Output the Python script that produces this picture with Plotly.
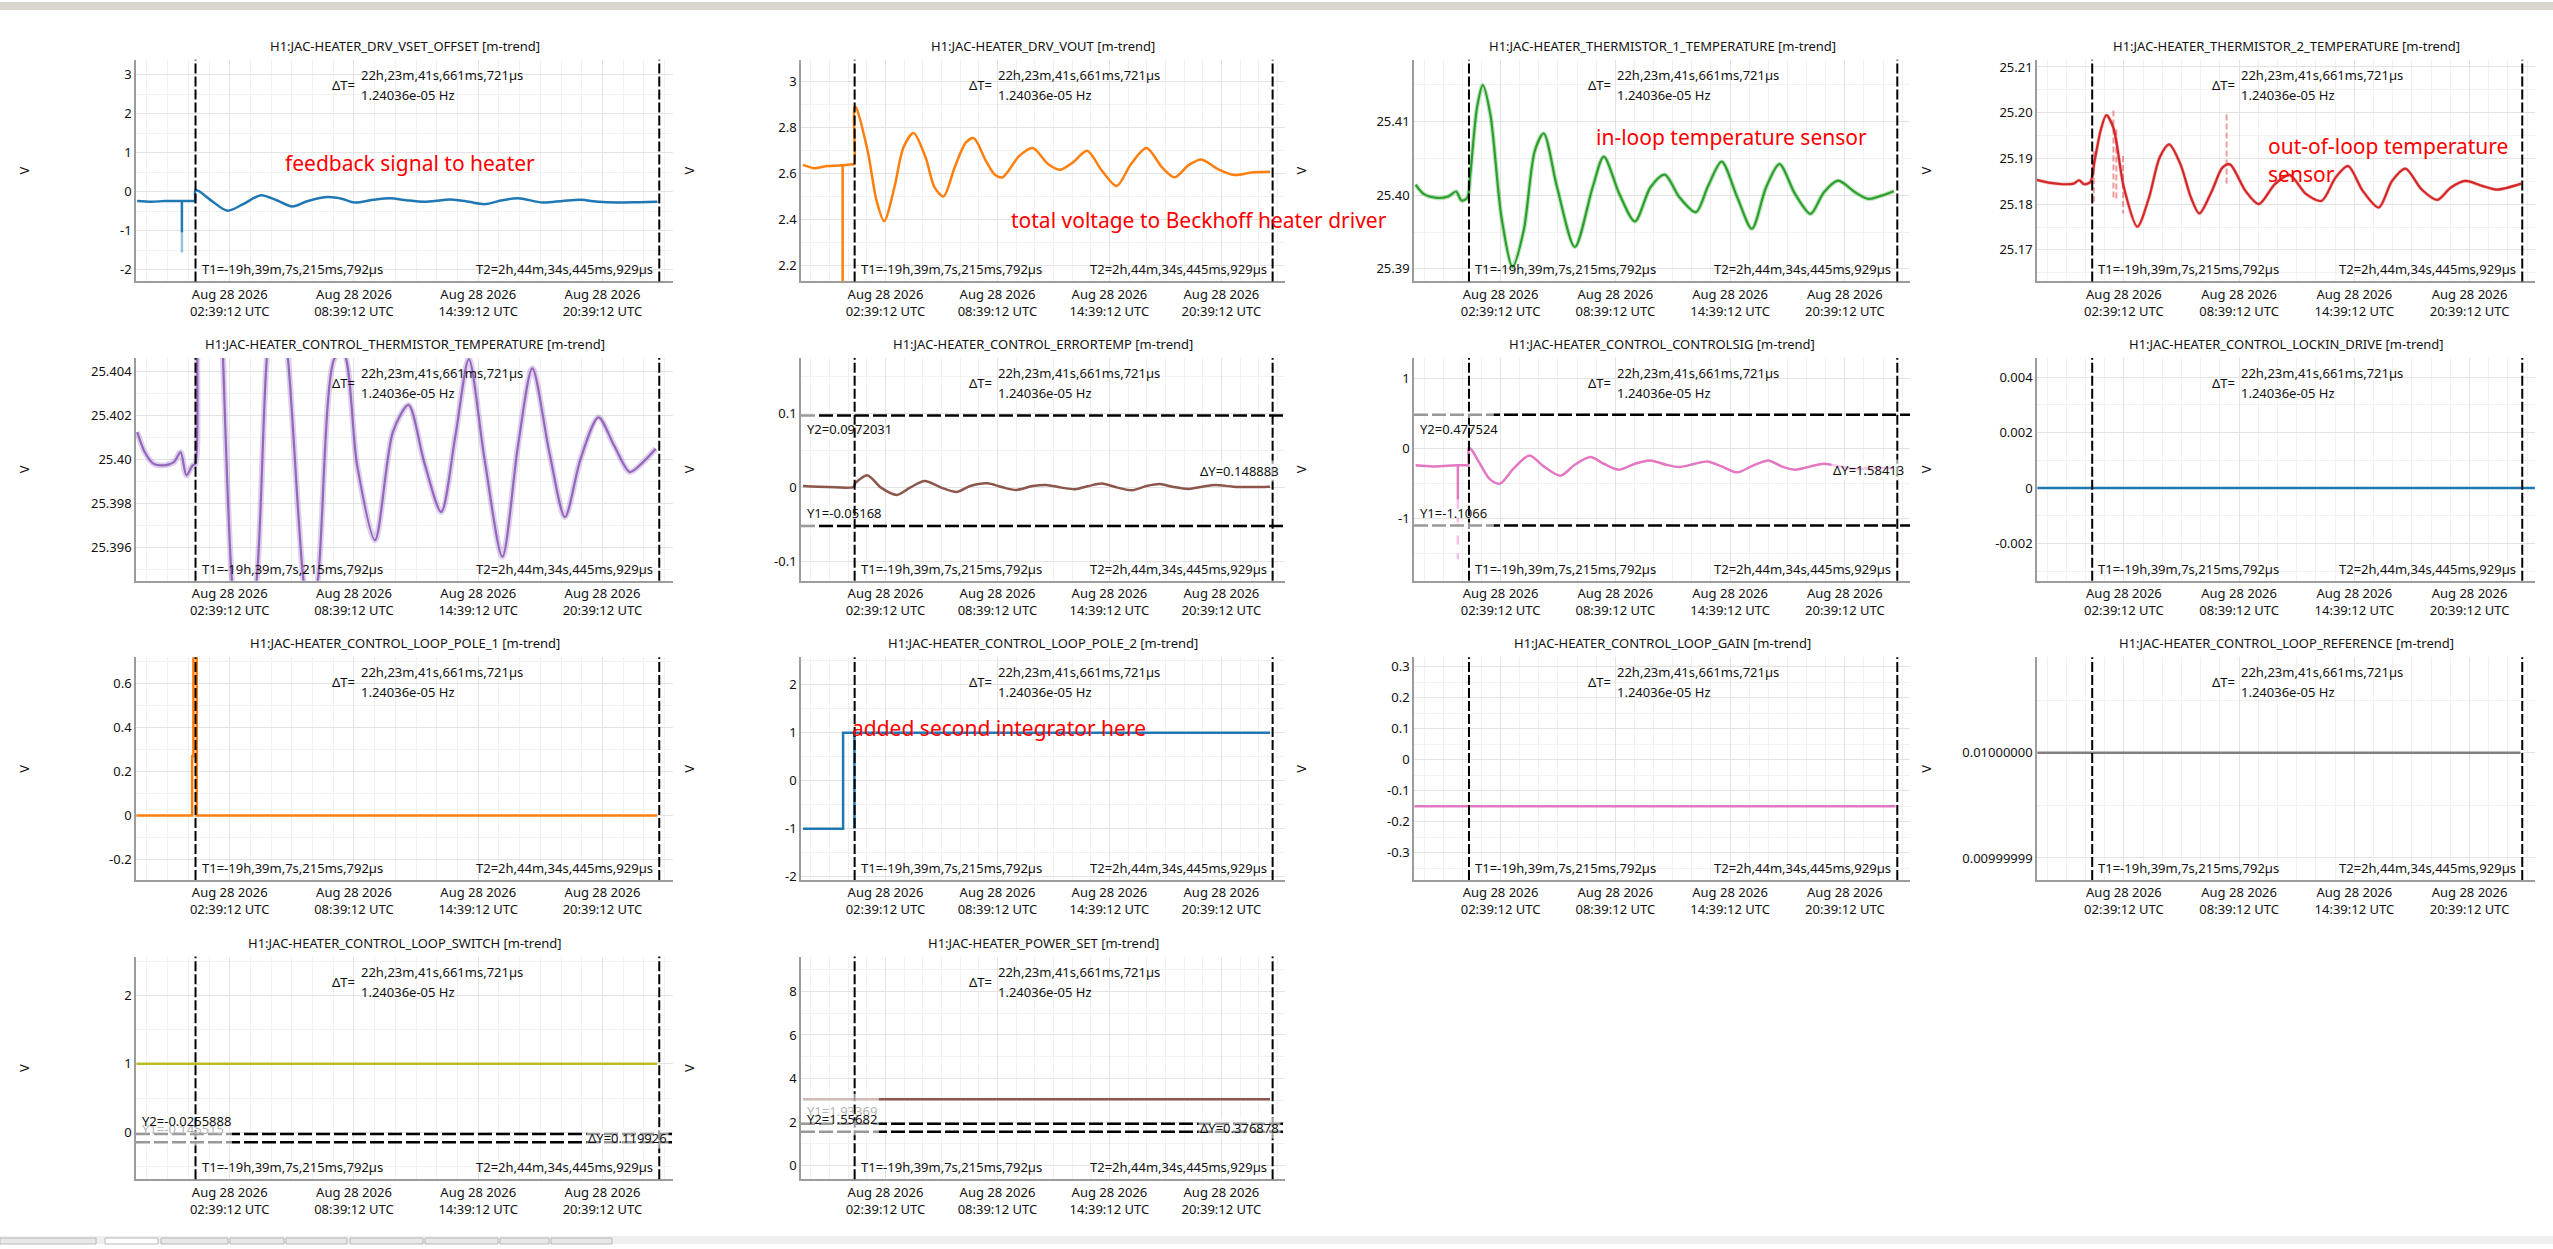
import numpy as np
import pandas as pd
import plotly.graph_objects as go

# H1:JAC heater loop, minute trends over one day
t_ref = pd.Timestamp("2026-08-28 00:00:00")
T1 = pd.Timestamp("2026-08-28 01:00:04.784208")
T2 = pd.Timestamp("2026-08-28 23:23:46.445929")
x_lo_h, x_hi_h = -1.873, 24.06

tick_times = ["2026-08-28 02:39:12", "2026-08-28 08:39:12",
              "2026-08-28 14:39:12", "2026-08-28 20:39:12"]
tick_labels = ["Aug 28 2026<br>02:39:12 UTC", "Aug 28 2026<br>08:39:12 UTC",
               "Aug 28 2026<br>14:39:12 UTC", "Aug 28 2026<br>20:39:12 UTC"]

channels = ["H1:JAC-HEATER_DRV_VSET_OFFSET", "H1:JAC-HEATER_DRV_VOUT",
            "H1:JAC-HEATER_THERMISTOR_1_TEMPERATURE", "H1:JAC-HEATER_THERMISTOR_2_TEMPERATURE",
            "H1:JAC-HEATER_CONTROL_THERMISTOR_TEMPERATURE", "H1:JAC-HEATER_CONTROL_ERRORTEMP",
            "H1:JAC-HEATER_CONTROL_CONTROLSIG", "H1:JAC-HEATER_CONTROL_LOCKIN_DRIVE",
            "H1:JAC-HEATER_CONTROL_LOOP_POLE_1", "H1:JAC-HEATER_CONTROL_LOOP_POLE_2",
            "H1:JAC-HEATER_CONTROL_LOOP_GAIN", "H1:JAC-HEATER_CONTROL_LOOP_REFERENCE",
            "H1:JAC-HEATER_CONTROL_LOOP_SWITCH", "H1:JAC-HEATER_POWER_SET"]

dT_text = "22h,23m,41s,661ms,721µs"
dT_freq = "1.24036e-05 Hz"
T1_text = "T1=-19h,39m,7s,215ms,792µs"
T2_text = "T2=2h,44m,34s,445ms,929µs"

# --- series (hours after 2026-08-28 00:00 UTC) ---
p1_h = [-1.815, -1.124, -0.476, 0.279, 0.862, 0.97, 0.99, 1.142, 1.790, 2.545, 3.301, 4.164, 4.920,
        5.675, 6.431, 7.402, 8.049, 8.697, 9.560, 10.424, 11.179, 12.042, 13.338, 14.201, 14.956,
        15.820, 16.575, 17.762, 18.733, 19.597, 20.460, 21.324, 22.403, 23.309]
p1_v = [-0.24, -0.26, -0.24, -0.24, -0.24, -0.24, 0.03, 0.02, -0.24, -0.49, -0.32, -0.09, -0.22,
        -0.38, -0.24, -0.14, -0.18, -0.28, -0.21, -0.17, -0.22, -0.26, -0.20, -0.26, -0.32,
        -0.22, -0.17, -0.28, -0.24, -0.21, -0.26, -0.28, -0.27, -0.26]

p2_h = [-1.77, -1.172, -0.455, 0.311, 0.860, 0.97, 0.99, 1.06, 1.697, 2.175, 2.582, 3.131, 3.609,
        4.159, 4.805, 5.283, 5.761, 6.359, 6.956, 7.387, 8.032, 8.510, 8.917, 9.825, 10.542,
        11.379, 12.024, 12.694, 13.459, 14.248, 15.037, 15.802, 16.638, 17.475, 18.145, 18.909,
        19.579, 20.464, 21.348, 22.256, 23.261]
p2_v = [2.637, 2.623, 2.632, 2.635, 2.640, 2.640, 2.888, 2.888, 2.698, 2.482, 2.392, 2.539, 2.712,
        2.776, 2.669, 2.539, 2.500, 2.626, 2.734, 2.753, 2.655, 2.594, 2.583, 2.676, 2.710,
        2.640, 2.616, 2.648, 2.698, 2.612, 2.545, 2.640, 2.710, 2.626, 2.583, 2.637,
        2.661, 2.619, 2.593, 2.604, 2.607]

p3_h = [-1.789, -1.370, -0.672, -0.091, 0.328, 0.607, 0.909, 1.072, 1.421, 1.723, 2.118, 2.700,
        3.281, 3.863, 4.444, 4.909, 5.607, 6.537, 7.467, 8.049, 8.863, 9.677, 10.491, 11.235,
        12.002, 12.863, 13.514, 14.211, 15.026, 15.793, 16.537, 17.235, 18.049, 18.863, 19.560,
        20.305, 21.188, 21.886, 22.584, 23.212]
p3_v = [25.40144, 25.40018, 25.39964, 25.39982, 25.40050, 25.39928, 25.39964, 25.40288, 25.41189,
        25.41495, 25.41099, 25.39703, 25.39027, 25.39523, 25.40604, 25.40838, 25.40108, 25.39297,
        25.40108, 25.40523, 25.40018, 25.39644, 25.40108, 25.40279, 25.39973, 25.39770, 25.40131,
        25.40455, 25.39973, 25.39545, 25.40108, 25.40423, 25.40018, 25.39748, 25.40041, 25.40198,
        25.40041, 25.39950, 25.39995, 25.40054]

p4_h = [-1.885, -1.274, -0.511, 0.035, 0.319, 0.580, 0.908, 1.126, 1.453, 1.737, 2.108, 2.653,
        3.352, 3.962, 4.508, 5.010, 5.599, 6.144, 6.581, 7.235, 7.781, 8.174, 8.981, 9.679,
        10.508, 11.272, 12.145, 12.952, 13.672, 14.327, 15.091, 15.920, 16.618, 17.316, 18.145,
        18.974, 19.673, 20.436, 21.309, 22.073, 23.339]
p4_v = [25.1853, 25.1847, 25.18436, 25.1845, 25.18523, 25.18436, 25.18486, 25.18944, 25.19633,
        25.19946, 25.1967, 25.18363, 25.17506, 25.18145, 25.19016, 25.19307, 25.18871, 25.18145,
        25.17797, 25.1829, 25.18799, 25.18871, 25.1829, 25.18, 25.18436, 25.18639, 25.18218,
        25.18073, 25.18581, 25.18835, 25.1829, 25.17927, 25.18508, 25.18777, 25.18327, 25.18094,
        25.18363, 25.18508, 25.18399, 25.18319, 25.1845]
p4_glitch_h = [1.082, 2.108, 2.260, 2.610, 7.999]
p4_glitch_lo = [25.18036, 25.18145, 25.18109, 25.17797, 25.18399]
p4_glitch_hi = [25.19162, 25.20047, 25.19633, 25.19053, 25.19960]

p5_h = [-1.815, -1.448, -1.016, -0.584, -0.045, 0.279, 0.560, 0.862, 0.99, 1.10, 1.42, 1.72, 2.12,
        2.33, 2.76, 3.28, 3.95, 4.445, 4.91, 5.46, 6.22, 6.54, 6.905, 7.726, 8.157, 8.805, 9.668,
        10.532, 11.287, 12.042, 12.863, 13.553, 14.201, 14.956, 15.820, 16.575, 17.266, 18.086,
        18.842, 19.597, 20.460, 21.216, 21.971, 22.619, 23.223]
p5_v = [25.40124, 25.40033, 25.39980, 25.39973, 25.39988, 25.40033, 25.39928, 25.39973, 25.39980,
        25.40600, 25.41190, 25.41500, 25.41100, 25.40460, 25.39450, 25.39030, 25.39450, 25.40460,
        25.40840, 25.40460, 25.39450, 25.39300, 25.39450, 25.40460, 25.40480, 25.39973, 25.39634,
        25.40124, 25.40247, 25.39988, 25.39762, 25.40108, 25.40455, 25.40003, 25.39559, 25.40063,
        25.40413, 25.40033, 25.39739, 25.40003, 25.40191, 25.40063, 25.39943, 25.39988, 25.40048]

p6_h = [-1.77, -0.455, 0.932, 1.06, 1.697, 2.414, 3.251, 3.968, 4.757, 5.642, 6.478, 7.196, 8.104,
        8.869, 9.634, 10.542, 11.260, 12.096, 12.813, 13.531, 14.248, 15.085, 15.850, 16.638,
        17.356, 18.073, 18.909, 19.627, 20.344, 21.300, 22.256, 23.261]
p6_v = [0.0022, 0.0009, 0.0009, 0.0067, 0.0165, 0.0, -0.0098, 0.0, 0.0089, 0.0, -0.0058, 0.0022,
        0.0058, 0.0009, -0.0031, 0.0022, 0.0036, 0.0, -0.0022, 0.0022, 0.0054, 0.0, -0.0036,
        0.0022, 0.0049, 0.0009, -0.0018, 0.0013, 0.0036, 0.0013, 0.0009, 0.0013]

p7_h = [-1.789, -0.905, -0.091, 0.421, 0.886, 0.97, 0.99, 1.142, 1.653, 2.118, 2.630, 3.281, 4.165,
        4.909, 5.793, 6.537, 7.351, 8.049, 8.863, 9.677, 10.491, 11.305, 12.002, 12.816, 13.467,
        14.211, 15.026, 15.840, 16.653, 17.351, 18.049, 18.863, 19.560, 20.374, 21.188, 22.119,
        23.165]
p7_v = [-0.246, -0.261, -0.251, -0.246, -0.246, -0.246, 0.009, -0.024, -0.261, -0.450, -0.507,
        -0.308, -0.104, -0.261, -0.393, -0.237, -0.128, -0.223, -0.308, -0.223, -0.175, -0.237,
        -0.270, -0.223, -0.190, -0.261, -0.346, -0.251, -0.175, -0.261, -0.308, -0.261, -0.223,
        -0.261, -0.299, -0.284, -0.284]

p8_h = [-1.85, 24.05]
p8_v = [0.0, 0.0]
p9_h = [-1.85, 0.84, 0.90, 1.06, 23.30]
p9_v = [0.0, 0.27, 1.0, 0.0, 0.0]
p10_h = [-1.77, 0.382, 23.26]
p10_v = [-1.0, 1.0, 1.0]
p11_h = [-1.85, 23.30]
p11_v = [-0.15, -0.15]
p12_h = [-1.85, 23.30]
p12_v = [0.01, 0.01]
p13_h = [-1.85, 23.30]
p13_v = [1.0, 1.0]
p14_h = [-1.77, 23.26]
p14_v = [3.05, 3.05]

# single-minute excursions: (hour, low, high)
p1_spike = [(0.344, -1.05, -0.24)]
p1_spike_minmax = [(0.344, -1.56, -1.05)]
p2_spike = [(0.358, 2.00, 2.635)]
p7_spike = [(0.421, -0.735, -0.246)]
p7_spike_minmax = [(0.421, -1.588, -0.735)]
p10_spike = [(0.99, -1.0, 1.0)]

# y cursors: (Y1, Y2, dY)
p6_cursor = (-0.05168, 0.0972031, 0.148883)
p7_cursor = (-1.1066, 0.477524, 1.58413)
p13_cursor = (-0.145515, -0.0255888, 0.119926)
p14_cursor = (1.93369, 1.55682, 0.376878)

# y axes
p1_ticks, p1_tlab = [-2, -1, 0, 1, 2, 3], ["-2", "-1", "0", "1", "2", "3"]
p2_ticks, p2_tlab = [2.2, 2.4, 2.6, 2.8, 3.0], ["2.2", "2.4", "2.6", "2.8", "3"]
p3_ticks, p3_tlab = [25.39, 25.40, 25.41], ["25.39", "25.40", "25.41"]
p4_ticks, p4_tlab = [25.17, 25.18, 25.19, 25.20, 25.21], ["25.17", "25.18", "25.19", "25.20", "25.21"]
p5_ticks, p5_tlab = [25.396, 25.398, 25.400, 25.402, 25.404], ["25.396", "25.398", "25.40", "25.402", "25.404"]
p6_ticks, p6_tlab = [-0.1, 0.0, 0.1], ["-0.1", "0", "0.1"]
p7_ticks, p7_tlab = [-1, 0, 1], ["-1", "0", "1"]
p8_ticks, p8_tlab = [-0.002, 0.0, 0.002, 0.004], ["-0.002", "0", "0.002", "0.004"]
p9_ticks, p9_tlab = [-0.2, 0.0, 0.2, 0.4, 0.6], ["-0.2", "0", "0.2", "0.4", "0.6"]
p10_ticks, p10_tlab = [-2, -1, 0, 1, 2], ["-2", "-1", "0", "1", "2"]
p11_ticks, p11_tlab = [-0.3, -0.2, -0.1, 0.0, 0.1, 0.2, 0.3], ["-0.3", "-0.2", "-0.1", "0", "0.1", "0.2", "0.3"]
p12_ticks, p12_tlab = [0.00999999, 0.01], ["0.00999999", "0.01000000"]
p13_ticks, p13_tlab = [0, 1, 2], ["0", "1", "2"]
p14_ticks, p14_tlab = [0, 2, 4, 6, 8], ["0", "2", "4", "6", "8"]

y_ranges = [[-2.30, 3.38], [2.131, 3.094], [25.3883, 25.4184], [25.1631, 25.2116],
            [25.3945, 25.4046], [-0.1254, 0.1746], [-1.896, 1.289], [-0.00334, 0.00469],
            [-0.2934, 0.7205], [-2.069, 2.572], [-0.388, 0.330], [0.0099999879, 0.01000000906],
            [-0.686, 2.565], [-0.622, 9.593]]
y_minor = [0.5, 0.1, 0.005, 0.005, 0.001, 0.05, 0.5, 0.001, 0.1, 0.5, 0.05, 0.5e-8, 0.5, 1]

BLUE, ORANGE, GREEN, RED = "#1f77b4", "#ff7f0e", "#2ca02c", "#d62728"
PURPLE, BROWN, PINK, GREY, OLIVE = "#9467bd", "#8c564b", "#e377c2", "#7f7f7f", "#bcbd22"

panels = [
    dict(h=p1_h, v=p1_v, c=BLUE, tv=p1_ticks, tt=p1_tlab),
    dict(h=p2_h, v=p2_v, c=ORANGE, tv=p2_ticks, tt=p2_tlab),
    dict(h=p3_h, v=p3_v, c=GREEN, tv=p3_ticks, tt=p3_tlab, halo=4.5),
    dict(h=p4_h, v=p4_v, c=RED, tv=p4_ticks, tt=p4_tlab, halo=3.5),
    dict(h=p5_h, v=p5_v, c=PURPLE, tv=p5_ticks, tt=p5_tlab, halo=6),
    dict(h=p6_h, v=p6_v, c=BROWN, tv=p6_ticks, tt=p6_tlab),
    dict(h=p7_h, v=p7_v, c=PINK, tv=p7_ticks, tt=p7_tlab),
    dict(h=p8_h, v=p8_v, c=BLUE, tv=p8_ticks, tt=p8_tlab, shape="linear"),
    dict(h=p9_h, v=p9_v, c=ORANGE, tv=p9_ticks, tt=p9_tlab, shape="hv"),
    dict(h=p10_h, v=p10_v, c=BLUE, tv=p10_ticks, tt=p10_tlab, shape="hv"),
    dict(h=p11_h, v=p11_v, c=PINK, tv=p11_ticks, tt=p11_tlab, shape="linear"),
    dict(h=p12_h, v=p12_v, c=GREY, tv=p12_ticks, tt=p12_tlab, shape="linear"),
    dict(h=p13_h, v=p13_v, c=OLIVE, tv=p13_ticks, tt=p13_tlab, shape="linear"),
    dict(h=p14_h, v=p14_v, c=BROWN, tv=p14_ticks, tt=p14_tlab, shape="linear"),
]

# page geometry (pixels)
W, H = 2553, 1249
cols_px = [(136, 673), (801, 1285), (1414, 1910), (2037, 2535)]
rows_px = [(58, 281), (358, 582), (659, 883), (960, 1184)]
vlabel_px = [24, 689, 1301, 1926]
FONT = "Noto Sans"
TXT = "#111111"


def to_time(hs):
    return [t_ref + pd.Timedelta(hours=float(h)) for h in hs]


def spike_xy(items):
    xs, ys = [], []
    for h, lo, hi in items:
        t = t_ref + pd.Timedelta(hours=h)
        xs += [t, t, None]
        ys += [hi, lo, None]
    return xs, ys


fig = go.Figure()
layout = dict(width=W, height=H, margin=dict(l=0, r=0, t=0, b=0),
              paper_bgcolor="white", plot_bgcolor="white", showlegend=False,
              font=dict(family=FONT, size=13, color=TXT))
annotations, shapes = [], []
t_mid = T1 + (T2 - T1) / 2
x_range = [t_ref + pd.Timedelta(hours=x_lo_h), t_ref + pd.Timedelta(hours=x_hi_h)]

for i, p in enumerate(panels):
    n = i + 1
    s = "" if n == 1 else str(n)
    row, col = divmod(i, 4)
    (l, r), (top, bot) = cols_px[col], rows_px[row]
    xs = to_time(p["h"])
    shape = p.get("shape", "spline")

    if p.get("halo"):
        fig.add_trace(go.Scatter(x=xs, y=p["v"], mode="lines", xaxis="x" + s, yaxis="y" + s,
                                 opacity=0.3, hoverinfo="skip",
                                 line=dict(color=p["c"], width=p["halo"], shape=shape, smoothing=0.8)))
    fig.add_trace(go.Scatter(x=xs, y=p["v"], mode="lines", xaxis="x" + s, yaxis="y" + s,
                             hoverinfo="skip",
                             line=dict(color=p["c"], width=2.2 if p.get("halo") else 2.5,
                                       shape=shape, smoothing=0.8)))

    layout["xaxis" + s] = dict(
        domain=[l / W, r / W], anchor="y" + s, range=x_range, type="date",
        tickmode="array", tickvals=tick_times, ticktext=tick_labels,
        showgrid=True, gridcolor="#e3e3e3", gridwidth=1, zeroline=False,
        showline=True, linecolor="#9c9c9c", linewidth=1.5, ticks="",
        tickfont=dict(size=13, color=TXT),
        minor=dict(tickmode="linear", tick0=tick_times[0], dtick=3600000,
                   showgrid=True, gridcolor="#f1f1f1", ticks=""))
    layout["yaxis" + s] = dict(
        domain=[1 - bot / H, 1 - top / H], anchor="x" + s, range=y_ranges[i],
        tickmode="array", tickvals=p["tv"], ticktext=p["tt"],
        showgrid=True, gridcolor="#e3e3e3", gridwidth=1, zeroline=False,
        showline=True, linecolor="#9c9c9c", linewidth=1.5, ticks="",
        tickfont=dict(size=13, color=TXT),
        minor=dict(tickmode="linear", tick0=p["tv"][0], dtick=y_minor[i],
                   showgrid=True, gridcolor="#f1f1f1", ticks=""))

    # titles and axis label
    annotations.append(dict(text=channels[i] + " [m-trend]", xref="x" + s + " domain", x=0.5,
                            yref="y" + s + " domain", y=1, yshift=14, xanchor="center",
                            yanchor="middle", showarrow=False, font=dict(size=13)))
    annotations.append(dict(text="V", xref="paper", x=vlabel_px[col] / W, xanchor="center",
                            yref="y" + s + " domain", y=0.5, yanchor="middle", textangle=-90,
                            showarrow=False, font=dict(size=13)))

    # time cursors
    for tc in (T1, T2):
        shapes.append(dict(type="line", xref="x" + s, yref="y" + s + " domain", x0=tc, x1=tc,
                           y0=0, y1=1, line=dict(color="black", width=2, dash="10px,3px")))
    annotations += [
        dict(text="ΔT=", xref="x" + s, x=t_mid, xanchor="right", xshift=-70,
             yref="y" + s + " domain", y=1, yshift=-25, yanchor="middle", showarrow=False),
        dict(text=dT_text, xref="x" + s, x=t_mid, xanchor="left", xshift=-68,
             yref="y" + s + " domain", y=1, yshift=-15, yanchor="middle", showarrow=False),
        dict(text=dT_freq, xref="x" + s, x=t_mid, xanchor="left", xshift=-68,
             yref="y" + s + " domain", y=1, yshift=-35, yanchor="middle", showarrow=False),
        dict(text=T1_text, xref="x" + s, x=T1, xanchor="left", xshift=4,
             yref="y" + s + " domain", y=0, yshift=12, yanchor="middle", showarrow=False),
        dict(text=T2_text, xref="x" + s, x=T2, xanchor="right", xshift=-4,
             yref="y" + s + " domain", y=0, yshift=12, yanchor="middle", showarrow=False),
    ]

# short spikes
for n, items, col, dash, op in [(1, p1_spike, BLUE, "solid", 1.0), (1, p1_spike_minmax, BLUE, "solid", 0.45),
                                (2, p2_spike, ORANGE, "solid", 1.0), (7, p7_spike, PINK, "solid", 1.0),
                                (7, p7_spike_minmax, PINK, "dash", 0.45), (10, p10_spike, BLUE, "solid", 1.0)]:
    sx, sy = spike_xy(items)
    s = "" if n == 1 else str(n)
    fig.add_trace(go.Scatter(x=sx, y=sy, mode="lines", xaxis="x" + s, yaxis="y" + s, opacity=op,
                             hoverinfo="skip", line=dict(color=col, width=2.5, dash=dash)))
sx, sy = spike_xy(list(zip(p4_glitch_h, p4_glitch_lo, p4_glitch_hi)))
fig.add_trace(go.Scatter(x=sx, y=sy, mode="lines", xaxis="x4", yaxis="y4", opacity=0.45,
                         hoverinfo="skip", line=dict(color=RED, width=2, dash="6px,3px")))

# y cursors: (panel, values, Y1 label shift, Y2 label shift, Y1 colour, Y2 colour, grey-out end hour)
ycur = [(6, p6_cursor, 13, -14, TXT, TXT, -0.93),
        (7, p7_cursor, 13, -14, TXT, TXT, 2.3),
        (13, p13_cursor, 13, 13, "#b5b5b5", TXT, 2.76),
        (14, p14_cursor, 13, 13, "#b5b5b5", TXT, 2.30)]
for n, (y1, y2, dy), sh1, sh2, c1, c2, gray_end in ycur:
    s = str(n)
    pad = (y_ranges[n - 1][1] - y_ranges[n - 1][0]) * 0.015
    for yv in (y1, y2):
        shapes.append(dict(type="line", xref="x" + s + " domain", yref="y" + s, x0=0, x1=1,
                           y0=yv, y1=yv, line=dict(color="black", width=2.5, dash="14px,4px")))
        shapes.append(dict(type="rect", xref="x" + s, yref="y" + s, x0=x_range[0],
                           x1=t_ref + pd.Timedelta(hours=gray_end), y0=yv - pad, y1=yv + pad,
                           fillcolor="rgba(255,255,255,0.6)", line=dict(width=0)))
    annotations += [
        dict(text=f"Y1={y1:g}", xref="x" + s + " domain", x=0, xshift=4, xanchor="left",
             yref="y" + s, y=y1, yshift=sh1, yanchor="middle", showarrow=False, font=dict(color=c1)),
        dict(text=f"Y2={y2:g}", xref="x" + s + " domain", x=0, xshift=4, xanchor="left",
             yref="y" + s, y=y2, yshift=sh2, yanchor="middle", showarrow=False, font=dict(color=c2)),
        dict(text=f"ΔY={dy:g}", xref="x" + s + " domain", x=1, xshift=-4, xanchor="right",
             yref="y" + s, y=(y1 + y2) / 2, yanchor="middle", showarrow=False,
             bgcolor="rgba(255,255,255,0.6)"),
    ]
shapes.append(dict(type="rect", xref="x14", yref="y14", x0=x_range[0],
                   x1=t_ref + pd.Timedelta(hours=2.30), y0=2.8, y1=3.3,
                   fillcolor="rgba(255,255,255,0.6)", line=dict(width=0)))

# hand-written notes
notes = [("feedback signal to heater", 283, 162), ("total voltage to Beckhoff heater driver", 1009, 219),
         ("in-loop temperature sensor", 1594, 136), ("out-of-loop temperature", 2266, 145),
         ("sensor", 2266, 173), ("added second integrator here", 850, 730)]
for txt, px, py in notes:
    annotations.append(dict(text=txt, xref="paper", yref="paper", x=px / W, y=1 - py / H,
                            xanchor="left", yanchor="middle", showarrow=False,
                            font=dict(size=21, color="#ff0000")))

# window chrome: title strip and tab bar
shapes.append(dict(type="rect", xref="paper", yref="paper", x0=0, x1=1, y0=1 - 8 / H, y1=1,
                   fillcolor="#d9d5cf", line=dict(width=0), layer="below"))
shapes.append(dict(type="rect", xref="paper", yref="paper", x0=0, x1=1, y0=0, y1=8 / H,
                   fillcolor="#efefef", line=dict(width=0), layer="below"))
for k, (a, b) in enumerate([(0, 96), (105, 158), (161, 228), (230, 284), (286, 347),
                            (350, 423), (425, 498), (500, 549), (551, 612)]):
    shapes.append(dict(type="rect", xref="paper", yref="paper", x0=a / W, x1=b / W, y0=0,
                       y1=6 / H, fillcolor="white" if k == 1 else "#e8e8e8",
                       line=dict(color="#b8b8b8", width=1), layer="below"))

layout["annotations"] = annotations
layout["shapes"] = shapes
fig.update_layout(**layout)

fig.write_html("out.html", config={"displayModeBar": False},
               post_script="document.body.style.margin='0';document.body.style.overflow='hidden';")
